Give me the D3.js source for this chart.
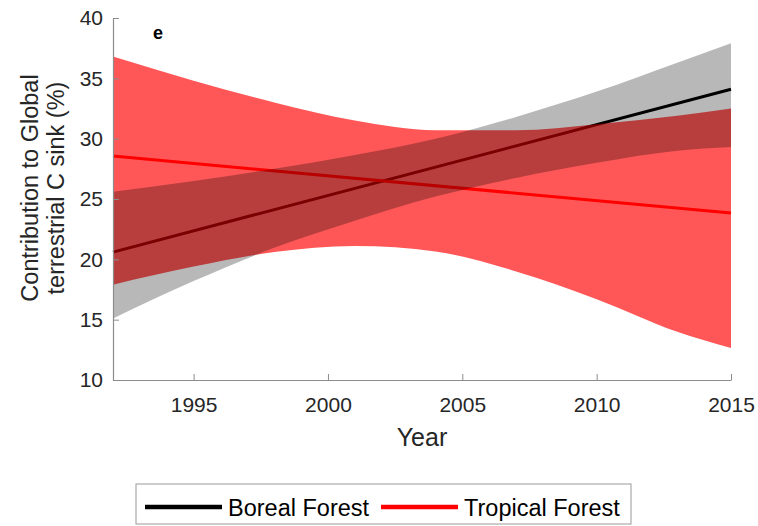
<!DOCTYPE html>
<html>
<head>
<meta charset="utf-8">
<script src="https://cdn.jsdelivr.net/npm/d3@7"></script>
<style>
  body { margin: 0; background: #fff; }
  svg { font-family: "Liberation Sans", Arial, sans-serif; }
</style>
</head>
<body>
<svg id="chart"></svg>
<script>
const width = 758;
const height = 526;

// values
const years = [1992, 1995, 1998, 2001, 2004, 2007, 2010, 2013, 2015];
const borealLow = [15.1, 18.2, 20.95, 23.2, 25.2, 26.75, 28.0, 29.0, 29.3];
const borealHigh = [25.6, 26.5, 27.5, 28.65, 30.0, 31.8, 33.9, 36.3, 37.9];
const tropicalLow = [17.9, 19.4, 20.6, 21.1, 20.65, 19.0, 16.7, 14.0, 12.65];
const tropicalHigh = [36.8, 34.8, 33.0, 31.5, 30.7, 30.7, 31.2, 31.9, 32.5];
const lineYears = [1992, 2015];
const borealFit = [20.6, 34.1];
const tropicalFit = [28.56, 23.84];
const xTicks = [1995, 2000, 2005, 2010, 2015];
const yTicks = [10, 15, 20, 25, 30, 35, 40];
const legendItems = ["Boreal Forest", "Tropical Forest"];

const margin = { top: 18, right: 27, bottom: 146, left: 113 };
const innerW = width - margin.left - margin.right;
const innerH = height - margin.top - margin.bottom;

const svg = d3.select("#chart")
  .attr("width", width)
  .attr("height", height);

const g = svg.append("g")
  .attr("transform", `translate(${margin.left},${margin.top})`);

const x = d3.scaleLinear().domain([1992, 2015]).range([0, innerW]);
const y = d3.scaleLinear().domain([10, 40]).range([innerH, 0]);

const band = (lo, hi) => d3.area()
  .x((d, i) => x(years[i]))
  .y0((d, i) => y(lo[i]))
  .y1((d, i) => y(hi[i]))
  .curve(d3.curveMonotoneX)(years);

const fitLine = vals => d3.line()
  .x((d, i) => x(lineYears[i]))
  .y((d, i) => y(vals[i]))(lineYears);

// boreal line sits under the red band
g.append("path")
  .attr("d", fitLine(borealFit))
  .attr("fill", "none")
  .attr("stroke", "#000")
  .attr("stroke-width", 3);

g.append("path")
  .attr("d", band(tropicalLow, tropicalHigh))
  .attr("fill", "#ff0000")
  .attr("fill-opacity", 0.66);

g.append("path")
  .attr("d", fitLine(tropicalFit))
  .attr("fill", "none")
  .attr("stroke", "#ff0000")
  .attr("stroke-width", 3);

// grey band on top
g.append("path")
  .attr("d", band(borealLow, borealHigh))
  .attr("fill", "#000")
  .attr("fill-opacity", 0.28);

// axes, ticks inward
const xAxis = g.append("g")
  .attr("transform", `translate(0,${innerH})`)
  .call(d3.axisBottom(x).tickValues(xTicks).tickSizeInner(-6).tickSizeOuter(0).tickPadding(17).tickFormat(d3.format("d")));

const yAxis = g.append("g")
  .call(d3.axisLeft(y).tickValues(yTicks).tickSizeInner(-6).tickSizeOuter(0).tickPadding(10));

[xAxis, yAxis].forEach(a => {
  a.select(".domain").attr("stroke", "#8c8c8c").attr("stroke-width", 1.2);
  a.selectAll(".tick line").attr("stroke", "#8c8c8c");
  a.selectAll(".tick text")
    .attr("fill", "#262626")
    .style("font-size", "21px")
    .style("font-family", "'Liberation Sans', Arial, sans-serif");
});

g.append("text")
  .attr("x", innerW / 2)
  .attr("y", innerH + 66)
  .attr("text-anchor", "middle")
  .attr("fill", "#262626")
  .style("font-size", "25px")
  .text("Year");

const yLabel = g.append("text")
  .attr("transform", `translate(${-75},170) rotate(-90)`)
  .attr("text-anchor", "middle")
  .attr("fill", "#262626")
  .style("font-size", "23.5px");
yLabel.append("tspan").attr("x", 0).attr("dy", 0).text("Contribution to Global");
yLabel.append("tspan").attr("x", 0).attr("dy", 26).text("terrestrial C sink (%)");

g.append("text")
  .attr("x", 40)
  .attr("y", 21)
  .attr("fill", "#000")
  .style("font-size", "18px")
  .style("font-weight", "bold")
  .text("e");

// legend
const legend = svg.append("g").attr("transform", "translate(136,484)");
legend.append("rect")
  .attr("width", 495)
  .attr("height", 40)
  .attr("fill", "#fff")
  .attr("stroke", "#999")
  .attr("stroke-width", 1);

const legendColors = ["#000", "#ff0000"];
const legendX = [9, 245];
legendItems.forEach((name, i) => {
  legend.append("line")
    .attr("x1", legendX[i]).attr("x2", legendX[i] + 77)
    .attr("y1", 23).attr("y2", 23)
    .attr("stroke", legendColors[i])
    .attr("stroke-width", 4.5);
  legend.append("text")
    .attr("x", legendX[i] + 83)
    .attr("y", 32)
    .attr("fill", "#000")
    .style("font-size", "23.5px")
    .text(name);
});
</script>
</body>
</html>
